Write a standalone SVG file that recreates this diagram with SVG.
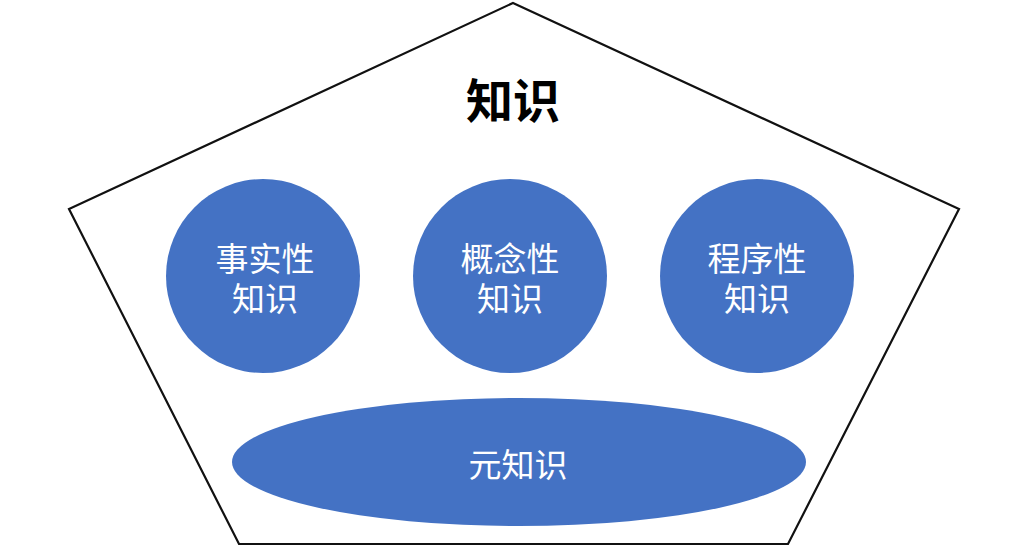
<svg xmlns="http://www.w3.org/2000/svg" width="1025" height="557" viewBox="0 0 1025 557">
<style>
.frame{fill:#ffffff;stroke:#111111;stroke-width:2.2;stroke-linejoin:miter}
.node{fill:#4472C4}
.lbl{fill:#ffffff;font-family:"Noto Sans CJK SC","Noto Sans CJK JP",sans-serif;font-size:33px;text-anchor:middle}
.title{fill:#000000;font-family:"Noto Sans CJK SC","Noto Sans CJK JP",sans-serif;font-size:47px;font-weight:bold;text-anchor:middle}
</style>
<rect width="1025" height="557" fill="#ffffff"/>
<g id="knowledge">
<polygon class="frame" points="513,3 959,209 788,544 239,544 69,209"/>
<text class="title" x="513" y="118">知识</text>
</g>
<g id="factual">
<circle class="node" cx="263" cy="276" r="97"/>
<text class="lbl" x="265" y="271">事实性</text>
<text class="lbl" x="265" y="311">知识</text>
</g>
<g id="conceptual">
<circle class="node" cx="510" cy="276" r="97"/>
<text class="lbl" x="510" y="271">概念性</text>
<text class="lbl" x="510" y="311">知识</text>
</g>
<g id="procedural">
<circle class="node" cx="757" cy="276" r="97"/>
<text class="lbl" x="757" y="271">程序性</text>
<text class="lbl" x="757" y="311">知识</text>
</g>
<g id="metacognitive">
<ellipse class="node" cx="519" cy="462" rx="287" ry="64"/>
<text class="lbl" x="518" y="477">元知识</text>
</g>
<g id="connectors"></g>
</svg>
